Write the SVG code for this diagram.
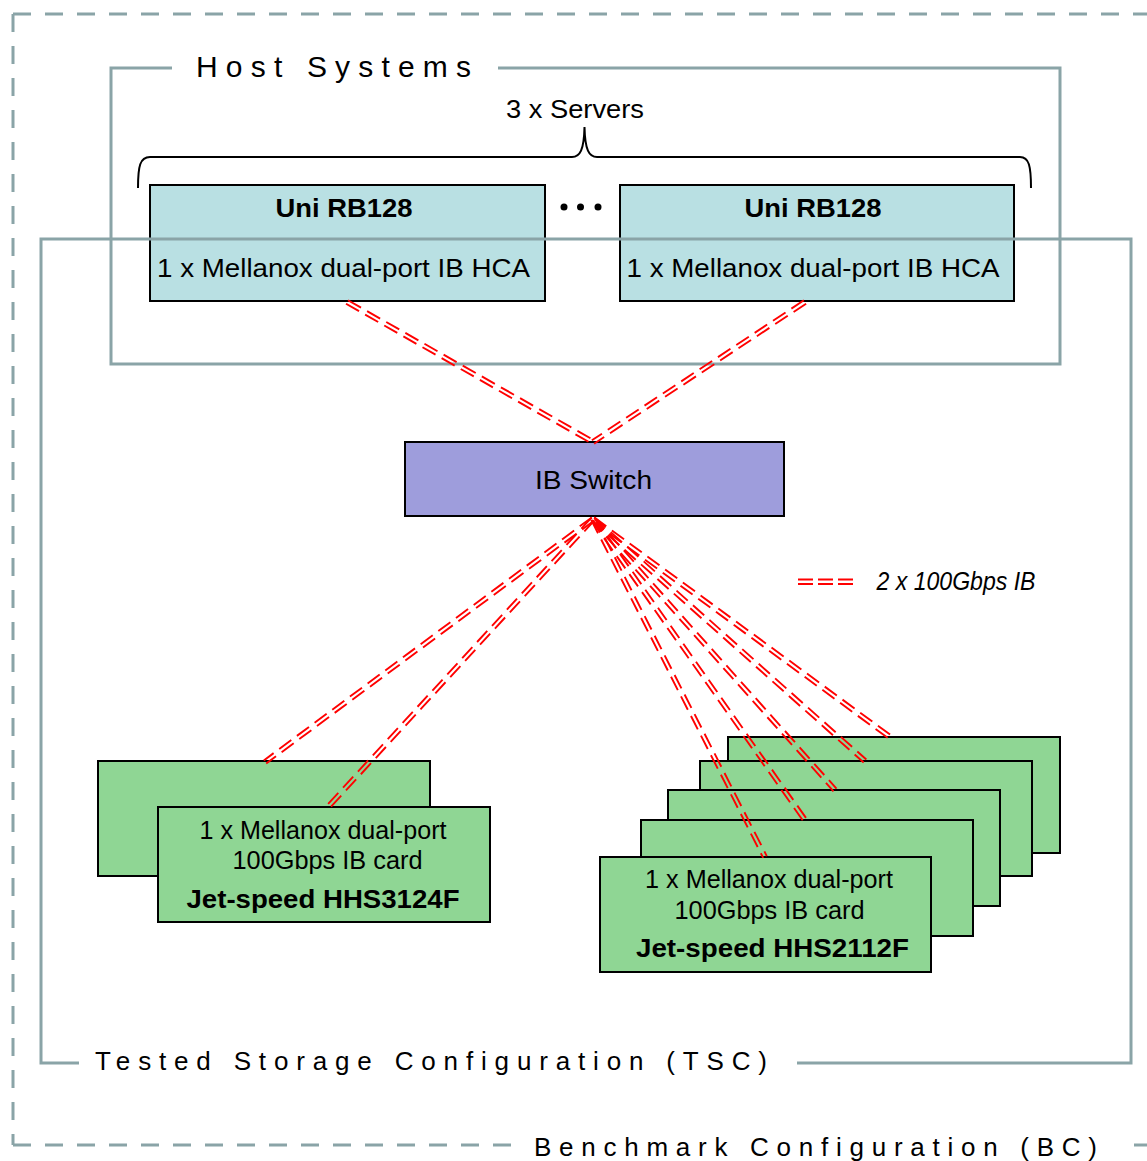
<svg xmlns="http://www.w3.org/2000/svg" width="1147" height="1161" viewBox="0 0 1147 1161">
<style>
  .frame{fill:none;stroke:#8aa4a7;stroke-width:3}
  .bc{fill:none;stroke:#8aa4a7;stroke-width:3;stroke-dasharray:18 14}
  .title{font-family:"Liberation Sans",Arial,sans-serif;fill:#000}
  .txt{font-family:"Liberation Sans",Arial,sans-serif;fill:#000;font-size:25px}
  .b{font-weight:bold}
  .srv{fill:#b9e0e3;stroke:#000;stroke-width:2}
  .sw{fill:#9e9ddc;stroke:#000;stroke-width:2}
  .st{fill:#8fd694;stroke:#000;stroke-width:2}
  .ib{stroke:#ff0000;stroke-width:1.9;stroke-dasharray:15 7;fill:none}
</style>
<rect x="0" y="0" width="1147" height="1161" fill="#fff"/>

<g id="benchmark-configuration">
  <path class="bc" d="M13,14 H1147"/>
  <path class="bc" d="M13,14 V1145"/>
  <path class="bc" d="M13,1145 H516"/>
  <path class="bc" d="M1134,1145 H1147" style="stroke-dasharray:none"/>
  <text class="title" x="534" y="1156" font-size="26" textLength="563" lengthAdjust="spacing">Benchmark Configuration (BC)</text>
</g>

<g id="host-systems">
  <path class="frame" d="M172,68 H111 V364 H1060 V68 H498"/>
  <text class="title" x="196" y="77" font-size="30" textLength="275" lengthAdjust="spacing">Host Systems</text>
  <path d="M138,188 C138,166 140,157 150,157 L572,157 C580,157 584,150 584.5,127 C585,150 589,157 597,157 L1020,157 C1029,157 1031,166 1031,188" fill="none" stroke="#000" stroke-width="2"/>
  <text class="txt" x="575" y="118" text-anchor="middle" font-size="26" textLength="138" lengthAdjust="spacingAndGlyphs">3 x Servers</text>
</g>

<g id="server-1">
  <rect class="srv" x="150" y="185" width="395" height="116"/>
  <text class="txt b" x="344" y="217" text-anchor="middle" textLength="137" lengthAdjust="spacingAndGlyphs">Uni RB128</text>
  <text class="txt" x="343.5" y="277" text-anchor="middle" textLength="373" lengthAdjust="spacingAndGlyphs">1 x Mellanox dual-port IB HCA</text>
</g>

<g id="server-ellipsis">
  <circle cx="564" cy="207" r="3.5" fill="#000"/>
  <circle cx="580.5" cy="207" r="3.5" fill="#000"/>
  <circle cx="598" cy="207" r="3.5" fill="#000"/>
</g>

<g id="server-n">
  <rect class="srv" x="620" y="185" width="394" height="116"/>
  <text class="txt b" x="813" y="217" text-anchor="middle" textLength="137" lengthAdjust="spacingAndGlyphs">Uni RB128</text>
  <text class="txt" x="813" y="277" text-anchor="middle" textLength="373" lengthAdjust="spacingAndGlyphs">1 x Mellanox dual-port IB HCA</text>
</g>

<g id="tested-storage-configuration">
  <path class="frame" d="M79,1063 H41 V239 H1131 V1063 H797"/>
  <text class="title" x="95" y="1070" font-size="26" textLength="672" lengthAdjust="spacing">Tested Storage Configuration (TSC)</text>
</g>

<g id="ib-switch">
  <rect class="sw" x="405" y="442" width="379" height="74"/>
  <text class="txt" x="593.5" y="489" text-anchor="middle" font-size="26.5" textLength="117" lengthAdjust="spacingAndGlyphs">IB Switch</text>
</g>

<g id="storage-hhs3124f">
  <rect class="st" x="98" y="761" width="332" height="115"/>
  <rect class="st" x="158" y="807" width="332" height="115"/>
  <text class="txt" x="323" y="839" text-anchor="middle" font-size="24.5" textLength="247" lengthAdjust="spacingAndGlyphs">1 x Mellanox dual-port</text>
  <text class="txt" x="327.5" y="869" text-anchor="middle" font-size="24.5" textLength="190" lengthAdjust="spacingAndGlyphs">100Gbps IB card</text>
  <text class="txt b" x="323" y="908" text-anchor="middle" textLength="273" lengthAdjust="spacingAndGlyphs">Jet-speed HHS3124F</text>
</g>

<g id="storage-hhs2112f">
  <rect class="st" x="728" y="737" width="332" height="116"/>
  <rect class="st" x="700" y="761" width="332" height="115"/>
  <rect class="st" x="668" y="790" width="332" height="116"/>
  <rect class="st" x="641" y="820" width="332" height="116"/>
  <rect class="st" x="600" y="857" width="331" height="115"/>
  <text class="txt" x="769" y="888" text-anchor="middle" font-size="24.5" textLength="248" lengthAdjust="spacingAndGlyphs">1 x Mellanox dual-port</text>
  <text class="txt" x="769.5" y="919" text-anchor="middle" font-size="24.5" textLength="190" lengthAdjust="spacingAndGlyphs">100Gbps IB card</text>
  <text class="txt b" x="772.5" y="957" text-anchor="middle" textLength="273" lengthAdjust="spacingAndGlyphs">Jet-speed HHS2112F</text>
</g>

<g id="connectors">
  <line class="ib" x1="346.01" y1="303.74" x2="592.01" y2="443.74"/>
  <line class="ib" x1="347.99" y1="300.26" x2="593.99" y2="440.26"/>
  <line class="ib" x1="806.11" y1="303.67" x2="594.11" y2="443.67"/>
  <line class="ib" x1="803.89" y1="300.33" x2="591.89" y2="440.33"/>

  <line class="ib" x1="594.2" y1="520.6" x2="266.2" y2="763.6"/>
  <line class="ib" x1="591.8" y1="517.4" x2="263.8" y2="760.4"/>
  <line class="ib" x1="594.47" y1="520.36" x2="329.47" y2="808.36"/>
  <line class="ib" x1="591.53" y1="517.64" x2="326.53" y2="805.64"/>

  <line class="ib" x1="594.79" y1="518.09" x2="766.79" y2="856.09"/>
  <line class="ib" x1="591.21" y1="519.91" x2="763.21" y2="857.91"/>
  <line class="ib" x1="594.64" y1="517.86" x2="806.64" y2="818.86"/>
  <line class="ib" x1="591.36" y1="520.14" x2="803.36" y2="821.14"/>
  <line class="ib" x1="594.5" y1="517.67" x2="836.5" y2="788.67"/>
  <line class="ib" x1="591.5" y1="520.33" x2="833.5" y2="791.33"/>
  <line class="ib" x1="594.34" y1="517.51" x2="866.34" y2="759.51"/>
  <line class="ib" x1="591.66" y1="520.49" x2="863.66" y2="762.49"/>
  <line class="ib" x1="594.19" y1="517.39" x2="891.19" y2="735.39"/>
  <line class="ib" x1="591.81" y1="520.61" x2="888.81" y2="738.61"/>
</g>

<g id="legend">
  <path d="M798,579.5 H853 M798,584 H853" fill="none" stroke="#ff0000" stroke-width="2" stroke-dasharray="15 5"/>
  <text class="txt" x="876.5" y="590" font-size="22" font-style="italic" textLength="159" lengthAdjust="spacingAndGlyphs">2 x 100Gbps IB</text>
</g>
</svg>
